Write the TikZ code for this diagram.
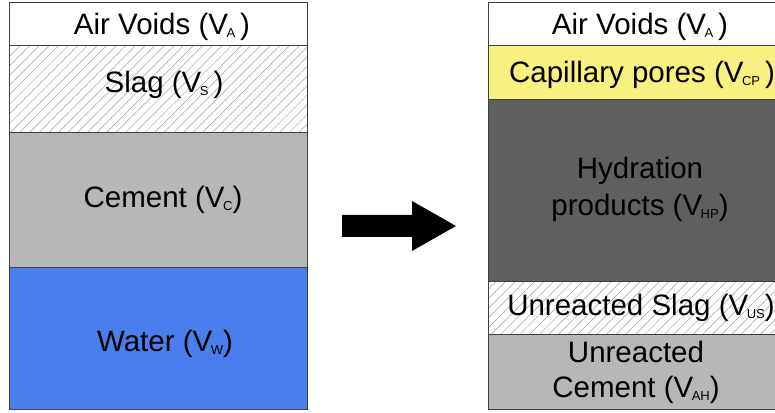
\documentclass[tikz,border=0pt]{standalone}
\usepackage{fontspec}
\setmainfont{Liberation Sans}
\usetikzlibrary{patterns.meta}
\definecolor{edgec}{RGB}{64,64,64}
\definecolor{cementc}{RGB}{183,183,183}
\definecolor{waterc}{RGB}{74,126,236}
\definecolor{hydc}{RGB}{95,95,95}
\definecolor{capc}{RGB}{247,241,130}
\definecolor{hatchc}{RGB}{160,160,160}
\newcommand\subtxt[1]{\kern-1.5pt\raisebox{-3pt}{\fontsize{13}{13}\selectfont #1}}
\begin{document}
\begin{tikzpicture}[x=1pt,y=1pt,
  cell/.style={draw=edgec, line width=0.8pt, inner sep=0pt, anchor=north west,
    minimum width=298pt},
  txt/.style={inner sep=0pt, align=center, font=\fontsize{29.5}{37}\selectfont},
  hatch/.style={pattern={Lines[angle=45,distance=6.8pt,line width=0.5pt]}, pattern color=hatchc}]
\useasboundingbox (0,0) rectangle (775,412);
\clip (0,0) rectangle (775,412);
% left column
\node[cell, minimum height=43pt] (lair) at (9,410) {};
\node[cell, hatch, minimum height=87pt] (lslag) at (9,367) {};
\node[cell, fill=cementc, minimum height=135pt] (lcem) at (9,280) {};
\node[cell, fill=waterc, minimum height=142pt] (lwat) at (9,145) {};
\node[txt] (lairt) at (162,385) {Air Voids (V\subtxt{A}\,)};
\node[txt] (lslagt) at (164,327) {Slag (V\subtxt{S}\,)};
\node[txt] (lcemt) at (163,212) {Cement (V\subtxt{C})};
\node[txt] (lwatt) at (165,68) {Water (V\subtxt{W})};
% right column
\node[cell, minimum height=43pt] (rair) at (488,410) {};
\node[cell, fill=capc, minimum height=54pt] (rcap) at (488,367) {};
\node[cell, fill=hydc, minimum height=182pt] (rhyd) at (488,313) {};
\node[cell, hatch, minimum height=53pt] (rslag) at (488,131) {};
\node[cell, fill=cementc, minimum height=75pt] (rcem) at (488,78) {};
\node[txt] (rairt) at (640,385) {Air Voids (V\subtxt{A}\,)};
\node[txt] (rcapt) at (642,337) {Capillary pores (V\subtxt{CP}\,)};
\node[txt] (rhydt) at (640,223) {Hydration\\products (V\subtxt{HP})};
\node[txt] (rslagt) at (641,104) {Unreacted Slag (V\subtxt{US})};
\node[txt, font=\fontsize{29.5}{35}\selectfont] (rcemt) at (636,39.5) {Unreacted\\Cement (V\subtxt{AH})};
% arrow
\fill[black] (342,197) -- (412,197) -- (412,211) -- (456,186) -- (412,161) -- (412,175) -- (342,175) -- cycle;
\end{tikzpicture}
\end{document}
